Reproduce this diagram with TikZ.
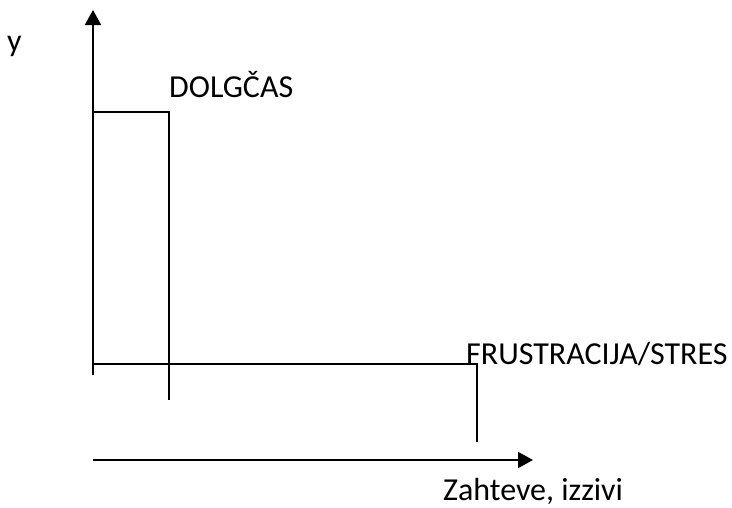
\documentclass[tikz,border=0pt]{standalone}
\usepackage{fontspec}
\setmainfont{Carlito}
\usetikzlibrary{arrows.meta}
\begin{document}
\begin{tikzpicture}[x=1pt,y=-1pt,
  ln/.style={line width=2pt,black},
  axis/.style={ln,-{Triangle[length=15pt,width=16pt]}},
  lbl/.style={anchor=base west,inner sep=0pt,font=\fontsize{32}{38}\selectfont}]
\useasboundingbox (0,0) rectangle (732,507);
\coordinate (o) at (93,375);
\coordinate (ytip) at (93,10);
\coordinate (xs) at (93,460);
\coordinate (xtip) at (533,460);
\coordinate (a1) at (93,112);
\coordinate (a2) at (169,112);
\coordinate (a3) at (169,400);
\coordinate (b1) at (93,364);
\coordinate (b2) at (477,364);
\coordinate (b3) at (477,442);
\draw[axis] (o) -- (ytip);
\draw[axis] (xs) -- (xtip);
\draw[ln] (a1) -- (a2) -- (a3);
\draw[ln] (b1) -- (b2) -- (b3);
\node[lbl] (ylab) at (7,51) {y};
\node[lbl] (dolg) at (169,97) {DOLGČAS};
\node[lbl] (frus) at (466,364) {FRUSTRACIJA/STRES};
\node[lbl] (zaht) at (443,500) {Zahteve, izzivi};
\end{tikzpicture}
\end{document}
